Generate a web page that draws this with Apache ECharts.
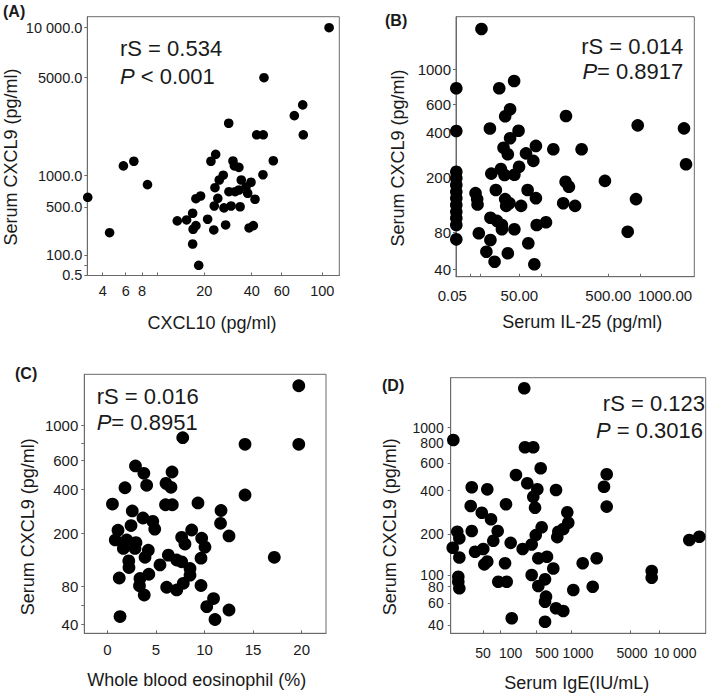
<!DOCTYPE html>
<html>
<head>
<meta charset="utf-8">
<script src="https://cdn.jsdelivr.net/npm/echarts@6/dist/echarts.min.js"></script>
<style>html,body{margin:0;padding:0;background:#fff}#c{width:709px;height:696px}</style>
</head>
<body>
<div id="c"></div>
<script>
// ---------- DATA ----------
// Panel A: CXCL10 (pg/ml) vs serum CXCL9 (pg/ml)
const cxcl10A = [108,48.2,77.8,70.7,78.3,43.3,47.7,30.3,54.4,47.5,24.8,22.8,32.1,32.7,34.6,28.0,26.3,35.6,39.7,24.5,37.6,30.4,33.0,34.6,38.3,42.2,19.2,18.2,25.7,24.2,28.3,31.3,35.1,17.5,14.2,16.2,21.4,18.2,17.6,24.0,29.0,38.9,41.1,17.5,18.8,2.7,4.6,5.8,7.0,8.7];
const cxcl9A  = [10000,5000,3890,3450,2670,2670,2670,3140,1610,1040,1870,1590,1600,1400,1340,1020,932,932,896,810,821,747,747,774,722,627,679,636,642,521,495,521,509,450,386,394,400,346,316,310,352,327,346,192,49.5,658,287,1400,1590,858];
// Panel B: serum IL-25 (pg/ml) vs serum CXCL9 (pg/ml)
const il25B  = [20.0,0.05,34.1,45.9,42.7,38.8,286,964,1694,0.05,26.7,49.4,42.7,37.5,40.9,134,84,121,222,365,1726,27.8,35.4,38.3,46.1,49.8,483,284,301,15.3,16.6,16.9,31.4,92,134,38.8,42.2,39.6,59,937,272,332,27.1,32.3,36.2,36.2,46.1,138,185,806,17.9,27.1,23.9,30.4,40.9,95.5,126,0.05,0.05,0.05,0.05,0.05,0.05,0.05,0.05,0.05,0.05];
const cxcl9B = [1465,781,781,865,563,513,515,449,428,409,427,411,374,332,303,340,307,274,325,325,259,218,238,212,213,248,193,191,180,166,153,141,173,173,155,153,144,138,138,153,144,138,112,105,96,86.6,86.6,96,102,81.3,78.9,71.7,59,48.2,57.3,68.1,45.4,226,199,184,169,155,140,125,111,96,72.4];
// Panel C: whole blood eosinophil (%) vs serum CXCL9 (pg/ml)
const eosC   = [19.7,7.76,14.17,19.7,14.17,17.18,0.53,1.82,9.33,11.7,11.65,12.52,9.64,9.64,10.23,10.93,12.52,11.08,1.31,1.23,2.9,3.76,4.05,6.66,6.04,6.55,5.99,6.69,2.57,3.67,4.68,2.44,1.1,4.88,0.82,2.0,2.95,1.65,2.85,4.22,3.88,2.21,2.23,3.36,4.27,3.31,3.8,8.68,7.65,7.99,9.71,10.05,6.28,7.14,7.65,5.42,8.51,8.51,7.82,6.11,7.14];
const cxcl9C = [1440,858,784,784,373,146,332,409,337,303,245,194,144,82.7,58.6,67.3,55,44.8,48,99.6,563,511,426,520,440,412,329,329,301,269,254,235,214,219,185,185,179,166,166,162,146,138,123,98.4,108,82,71.1,215,191,176,189,169,151,140,136,129,121,106,87.6,79.4,76.5];
// Panel D: serum IgE (IU/mL) vs serum CXCL9 (pg/ml)
const igeD   = [367,21.3,375,469,567,273,401,519,469,786,39.1,62.1,3420,3237,3420,38.1,160,489,48.8,72.6,947,961,890,819,804,25.1,27.1,39.1,91.5,79.1,20.7,213,581,497,451,349,42.3,50.8,27.1,53.7,149,533,657,747,1793,2742,26.1,26.1,27.1,93.2,168,451,533,629,643,629,786,890,1156,2471,225,629,8741,8741,15224,16948,62.1];
const cxcl9D = [1505,842,760,760,564,515,454,410,372,405,425,410,520,429,327,330,338,322,299,269,301,253,224,212,193,212,190,215,215,184,167,179,232,198,175,164,157,164,143,126,129,141,145,116,129,141,97.1,88.5,78.1,88.5,88.5,100,81.2,92.6,68,61.9,55.4,52.9,76,80,46.2,43,110,95.4,186,194,133];

// Tick labels
const xLabelsA = [4,6,8,20,40,60,80,100];
const yLabelsA = [0.5,100,500,1000,5000,10000];
const yLabelTextA = ['0.5','100.0','500.0','1000.0','5000.0','10 000.0'];
const xLabelsB = [0.05,50,500,1000];
const xLabelTextB = ['0.05','50.00','500.00','1000.00'];
const yLabelsB = [40,80,200,400,600,1000];
const xLabelsC = [0,5,10,15,20];
const yLabelsC = [40,80,200,400,600,1000];
const xLabelsD = [50,100,500,1000,5000,10000];
const xLabelTextD = ['50','100','500','1000','5000','10 000'];
const yLabelsD = [40,60,80,100,200,400,600,800,1000];

// Tick mark values
const xTicksA = [4,6,8,10,20,40,60,80,100];
const yTicksA = [0.5,50,100,500,1000,5000,10000];
const xTicksB = [0.05,11,19,50,160,500,1000];
const yTicksC = [40,60,80,200,400,600,800,1000];

// ---------- SCALES (non-uniform axes of the source figure: value -> pixel knots) ----------
const knotsAx = [[4,102.7],[6,125.7],[8,142],[10,157.7],[20,204.3],[40,251.7],[60,281.7],[80,305.3],[100,322.3]];
const knotsAy = [[0.5,275.3],[100,255],[500,207.3],[1000,175.7],[5000,77.7],[10000,27.7]];
const knotsBx = [[0.05,456.3],[50,519.3],[500,608.3],[1000,640]];
const knotsBy = [[40,269.3],[80,232.3],[200,177.7],[400,132.3],[600,104],[1000,69.3]];
const knotsCx = [[0,107.3],[20,301.7]];
const knotsCy = [[40,624],[80,586.7],[200,533.3],[400,489],[600,460.7],[1000,425]];
const knotsDx = [[20,452],[50,483],[100,500.7],[500,536],[1000,571],[5000,630],[10000,659]];
const knotsDy = [[40,625],[60,603.3],[80,586.7],[100,575],[200,534.3],[400,490.7],[600,463.3],[800,443.3],[1000,427.7]];

function makeScale(knots, lo, hi) {
  return function (v) {
    let i = 0;
    while (i < knots.length - 2 && v > knots[i + 1][0]) i++;
    const v0 = knots[i][0], p0 = knots[i][1], v1 = knots[i + 1][0], p1 = knots[i + 1][1];
    const px = p0 + (v - v0) * (p1 - p0) / (v1 - v0);
    return (px - lo) / (hi - lo);
  };
}

const FONT = "'Liberation Sans', Arial, sans-serif";
const TXT = '#1a1a1a';
const LINE = '#6a6a6a';

const panels = [
  { box: {l:87.3, t:16.7, r:339.3, b:275.5}, kx: knotsAx, ky: knotsAy,
    xs: cxcl10A, ys: cxcl9A, xL: xLabelsA, xT: xLabelsA.map(String), yL: yLabelsA, yT: yLabelTextA,
    xTk: xTicksA, yTk: yTicksA, dot: 9.6, fs: 14.5, yfs: 14.5, xMargin: 8, yMargin: 5, xShift: {} },
  { box: {l:456, t:16.7, r:694.3, b:276.7}, kx: knotsBx, ky: knotsBy,
    xs: il25B, ys: cxcl9B, xL: xLabelsB, xT: xLabelTextB, yL: yLabelsB, yT: yLabelsB.map(String),
    xTk: xTicksB, yTk: yLabelsB, dot: 12.6, fs: 15, yfs: 15, xMargin: 11, yMargin: 5, xShift: {0: -4, 3: 25} },
  { box: {l:84.3, t:374.3, r:326, b:633.3}, kx: knotsCx, ky: knotsCy,
    xs: eosC, ys: cxcl9C, xL: xLabelsC, xT: xLabelsC.map(String), yL: yLabelsC, yT: yLabelsC.map(String),
    xTk: xLabelsC, yTk: yTicksC, dot: 12.8, fs: 15, yfs: 15, xMargin: 9, yMargin: 6, xShift: {} },
  { box: {l:450.7, t:377.7, r:705.7, b:633.3}, kx: knotsDx, ky: knotsDy,
    xs: igeD, ys: cxcl9D, xL: xLabelsD, xT: xLabelTextD, yL: yLabelsD, yT: yLabelsD.map(String),
    xTk: xLabelsD, yTk: yLabelsD, dot: 12.6, fs: 14, yfs: 14, yLineH: 11, xMargin: 13, yMargin: 7,
    xShift: {1: 10, 2: 11, 3: 7, 4: 2, 5: 16} }
];

const grids = [], xAxes = [], yAxes = [], series = [];

function fmtFactory(vals, texts, scale, shifts) {
  const pos = vals.map(scale);
  return function (v) {
    let j = 0, best = Infinity;
    pos.forEach((p, k) => { const d = Math.abs(p - v); if (d < best) { best = d; j = k; } });
    return shifts && shifts[j] ? '{s' + j + '|' + texts[j] + '}' : texts[j];
  };
}

panels.forEach((p, i) => {
  const b = p.box;
  const sx = makeScale(p.kx, b.l, b.r);
  const sy = makeScale(p.ky, b.b, b.t);
  grids.push({ left: b.l, top: b.t, width: b.r - b.l, height: b.b - b.t, show: true,
    borderColor: LINE, borderWidth: 1, backgroundColor: 'transparent', containLabel: false });
  const rich = {};
  Object.keys(p.xShift).forEach(k => {
    const s = p.xShift[k];
    rich['s' + k] = { padding: s > 0 ? [0, 0, 0, 2 * s] : [0, -2 * s, 0, 0], fontSize: p.fs, fontFamily: FONT, color: TXT };
  });
  xAxes.push({ gridIndex: i, type: 'value', min: 0, max: 1,
    axisLine: { show: true, onZero: false, lineStyle: { color: LINE, width: 1 } },
    axisTick: { show: true, inside: true, length: 3, customValues: p.xTk.map(sx), lineStyle: { color: LINE } },
    axisLabel: { show: true, customValues: p.xL.map(sx), formatter: fmtFactory(p.xL, p.xT, sx, p.xShift),
      fontSize: p.fs, fontFamily: FONT, color: TXT, margin: p.xMargin, hideOverlap: false,
      showMinLabel: true, showMaxLabel: true, rich: rich },
    splitLine: { show: false } });
  const yLab = { show: true, customValues: p.yL.map(sy), formatter: fmtFactory(p.yL, p.yT, sy, null),
      fontSize: p.yfs, fontFamily: FONT, color: TXT, margin: p.yMargin, hideOverlap: false,
      showMinLabel: true, showMaxLabel: true };
  if (p.yLineH) yLab.lineHeight = p.yLineH;
  yAxes.push({ gridIndex: i, type: 'value', min: 0, max: 1,
    axisLine: { show: true, onZero: false, lineStyle: { color: LINE, width: 1 } },
    axisTick: { show: true, inside: false, length: 3, customValues: p.yTk.map(sy), lineStyle: { color: LINE } },
    axisLabel: yLab,
    splitLine: { show: false } });
  series.push({ type: 'scatter', xAxisIndex: i, yAxisIndex: i, symbol: 'circle', symbolSize: p.dot,
    itemStyle: { color: '#000', opacity: 1 }, silent: true, clip: false,
    data: p.xs.map((x, k) => [sx(x), sy(p.ys[k])]) });
});

function txt(x, y, text, opts) {
  opts = opts || {};
  return { type: 'text', x: x, y: y, rotation: opts.rot || 0, silent: true, z: 10,
    style: { text: text, fontSize: opts.fs || 22, fontFamily: FONT, fontWeight: opts.bold ? 'bold' : 'normal',
      fill: TXT, textAlign: opts.align || 'left', textVerticalAlign: 'middle',
      rich: { i: { fontStyle: 'italic', fontSize: opts.fs || 22, fontFamily: FONT, fill: TXT, color: TXT } } } };
}

const graphic = [
  txt(3, 11, '(A)', { fs: 16, bold: true }),
  txt(385, 20, '(B)', { fs: 16, bold: true }),
  txt(15, 373, '(C)', { fs: 16, bold: true }),
  txt(382, 385, '(D)', { fs: 16, bold: true }),
  txt(120, 48, 'rS = 0.534'),
  txt(120, 76, '{i|P} < 0.001'),
  txt(683.3, 46.7, 'rS = 0.014', { align: 'right' }),
  txt(683.3, 71.7, '{i|P}= 0.8917', { align: 'right' }),
  txt(96.7, 396.7, 'rS = 0.016'),
  txt(96.7, 422.7, '{i|P}= 0.8951'),
  txt(705, 403.3, 'rS = 0.123', { align: 'right' }),
  txt(703, 430, '{i|P} = 0.3016', { align: 'right' }),
  txt(212, 323, 'CXCL10 (pg/ml)', { fs: 18, align: 'center' }),
  txt(582.3, 321.7, 'Serum IL-25 (pg/ml)', { fs: 18, align: 'center' }),
  txt(196.7, 680, 'Whole blood eosinophil (%)', { fs: 18, align: 'center' }),
  txt(576.7, 683.3, 'Serum IgE(IU/mL)', { fs: 18, align: 'center' }),
  txt(10.5, 157, 'Serum CXCL9 (pg/ml)', { fs: 18, align: 'center', rot: Math.PI / 2 }),
  txt(398, 158, 'Serum CXCL9 (pg/ml)', { fs: 18, align: 'center', rot: Math.PI / 2 }),
  txt(28, 526.7, 'Serum CXCL9 (pg/ml)', { fs: 18, align: 'center', rot: Math.PI / 2 }),
  txt(390, 526.7, 'Serum CXCL9 (pg/ml)', { fs: 18, align: 'center', rot: Math.PI / 2 })
];

const chart = echarts.init(document.getElementById('c'), null, { renderer: 'svg' });
chart.setOption({
  animation: false,
  backgroundColor: '#fff',
  grid: grids, xAxis: xAxes, yAxis: yAxes, series: series, graphic: graphic
});
</script>
</body>
</html>
